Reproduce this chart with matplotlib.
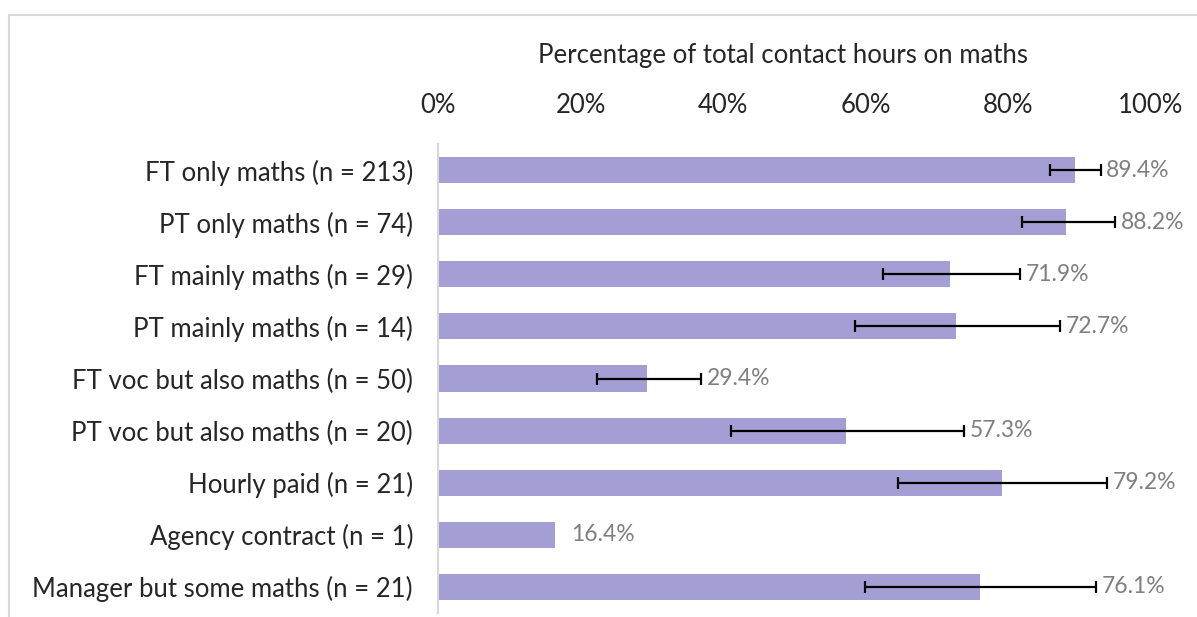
import matplotlib.pyplot as plt
import numpy as np
from matplotlib.patches import Rectangle

plt.rcParams['font.family'] = ['Lato', 'DejaVu Sans']

categories = ["FT only maths (n = 213)", "PT only maths (n = 74)",
              "FT mainly maths (n = 29)", "PT mainly maths (n = 14)",
              "FT voc but also maths (n = 50)", "PT voc but also maths (n = 20)",
              "Hourly paid (n = 21)", "Agency contract (n = 1)",
              "Manager but some maths (n = 21)"]
values = [89.4, 88.2, 71.9, 72.7, 29.4, 57.3, 79.2, 16.4, 76.1]
# confidence interval ends (Agency contract has none)
err_low = [85.9, 81.9, 62.5, 58.5, 22.3, 41.1, 64.6, None, 59.9]
err_high = [93.0, 95.0, 81.7, 87.3, 36.9, 73.8, 93.9, None, 92.4]
ticks = [0, 20, 40, 60, 80, 100]

W, H = 1197, 617
fig = plt.figure(figsize=(W / 100, H / 100), dpi=100)
ax = fig.add_axes([438 / W, (H - 613) / H, (1150.5 - 438) / W, (613 - 144) / H])

y = np.arange(len(categories))
ax.barh(y, values, height=0.5, color='#a39fd5', zorder=2)

for i in range(len(categories)):
    v = values[i]
    if err_low[i] is not None:
        ax.errorbar(v, i, xerr=[[v - err_low[i]], [err_high[i] - v]], fmt='none',
                    ecolor='black', elinewidth=1.6, capsize=4, capthick=1.6, zorder=3)
        xl, off = err_high[i], 4
    else:
        xl, off = v, 12
    ax.annotate(f"{v:.1f}%", (xl, i), xytext=(off, 0), textcoords='offset points',
                va='center', ha='left', fontsize=16.5, color='#7f7f7f')

ax.set_xlim(0, 100)
ax.set_ylim(len(categories) - 0.5, -0.5)
ax.set_xticks(ticks)
ax.set_xticklabels([f"{t}%" for t in ticks])
ax.set_yticks(y)
ax.set_yticklabels(categories)
ax.xaxis.tick_top()
ax.tick_params(axis='x', length=0, pad=19, labelsize=18.5, labelcolor='#262626')
ax.tick_params(axis='y', length=0, pad=18, labelsize=18.5, labelcolor='#262626')
for s in ['top', 'right', 'bottom']:
    ax.spines[s].set_visible(False)
ax.spines['left'].set_color('#d9d9d9')
ax.spines['left'].set_linewidth(1.5)

fig.text(783 / W, 1 - 55 / H, "Percentage of total contact hours on maths",
         ha='center', va='center', fontsize=18.5, color='#262626')

fig.patches.append(Rectangle((9 / W, -0.1), 1.2, (H - 15) / H + 0.1,
                             transform=fig.transFigure, fill=False,
                             edgecolor='#d9d9d9', linewidth=1.5))

plt.savefig("out.png")
